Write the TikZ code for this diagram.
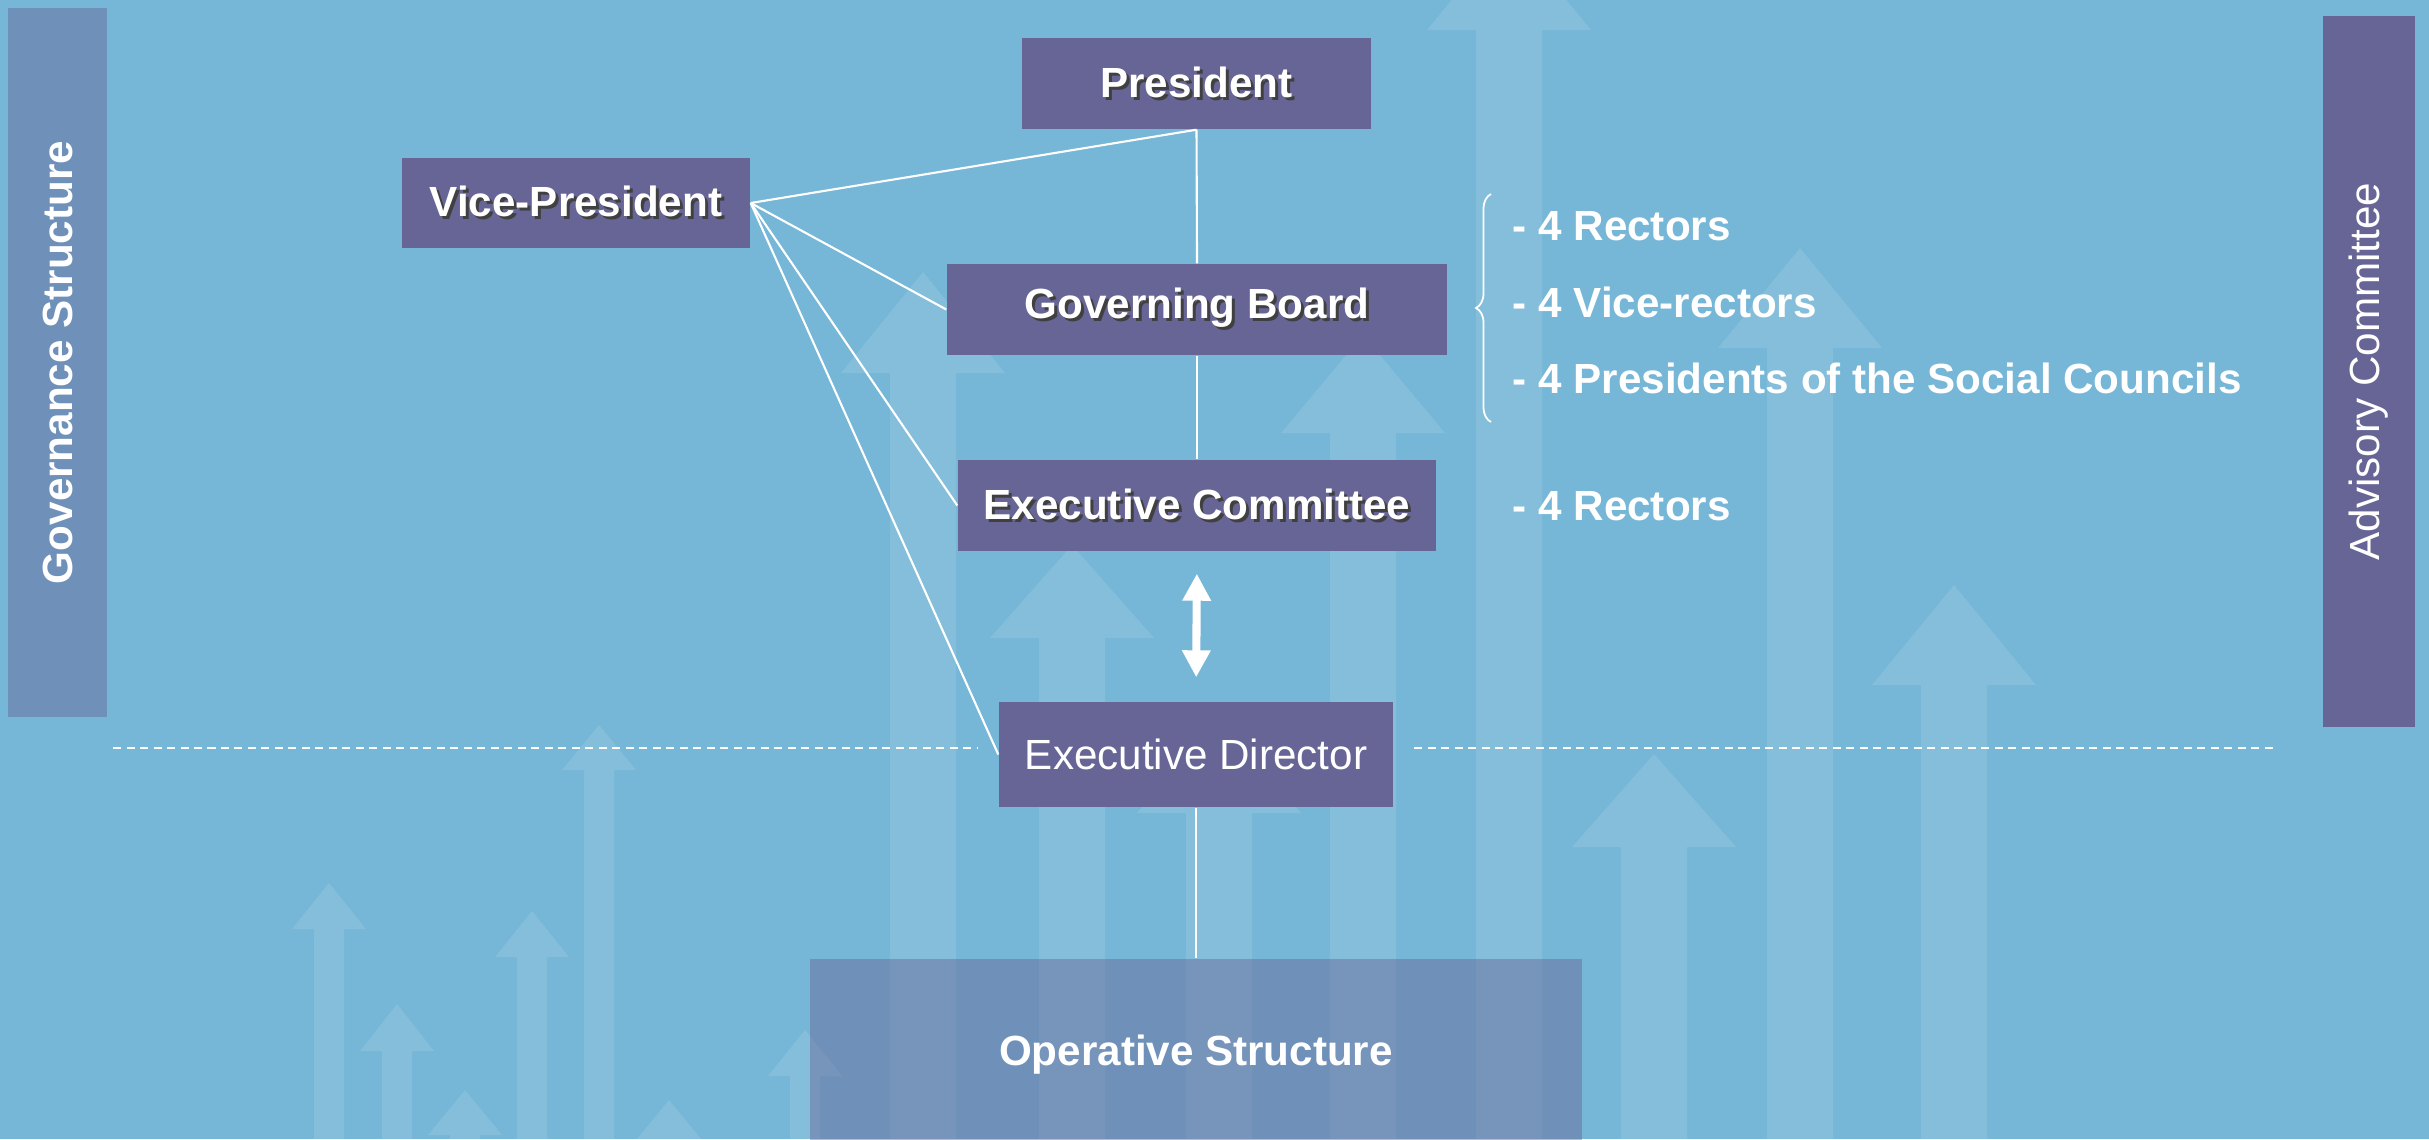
\documentclass[tikz,border=0pt]{standalone}
\usepackage{fontspec}
\setmainfont{Liberation Sans}
\usepackage{xcolor}
\definecolor{bgblue}{RGB}{118,182,215}
\definecolor{boxpurple}{RGB}{103,101,150}
\usepackage{tikz}
\usetikzlibrary{arrows.meta, decorations.pathreplacing}
\tikzstyle{box} = [
    rectangle, text centered,
    inner sep=0pt,
    text=white,
    font=\fontsize{12}{14}\selectfont,
]
\tikzstyle{unit} = [
    box,
    fill=boxpurple,
]
\tikzstyle{band} = [
    box,
    fill=boxpurple,
    fill opacity=0.45,
    text opacity=1,
]
\tikzstyle{member} = [
    anchor=base west, inner sep=0pt,
    text=white,
    font=\fontsize{12}{14}\selectfont\bfseries,
]
\tikzstyle{link} = [draw=white, line width=0.6pt]
\tikzstyle{divider} = [draw=white, line width=0.55pt, dash pattern=on 0.08cm off 0.055cm]
\tikzstyle{twoway} = [white, line width=2.3pt, <->, >={Triangle[width=0.27cm,length=0.27cm]}]
\tikzstyle{bgarrow} = [fill=white, fill opacity=0.11]
\newcommand{\shadowtxt}[1]{\makebox[0pt][l]{\hspace{0.03cm}\raisebox{-0.03cm}{\textcolor{black!75}{\bfseries #1}}}{\bfseries #1}}

\begin{document}
\begin{tikzpicture}
    \useasboundingbox (0,0) rectangle (24.29,11.39);
    % background
    \fill[bgblue] (0,0) rectangle (24.29,11.39);
    \begin{scope}
        \clip (0,0) rectangle (24.29,11.39);
        \foreach \x/\t/\b in {15.09/12.09/11.09, 9.23/8.67/7.66, 10.72/5.94/5.01, 13.63/8.04/7.06,
                              18.00/8.91/7.91, 19.54/5.54/4.54, 16.54/3.85/2.92, 12.19/4.26/3.26}
            \fill[bgarrow] (\x-0.33,0) -- (\x-0.33,\b) -- (\x-0.82,\b) -- (\x,\t)
                -- (\x+0.82,\b) -- (\x+0.33,\b) -- (\x+0.33,0) -- cycle;
        \foreach \x/\t/\b in {3.29/2.56/2.10, 3.97/1.35/0.88, 4.65/0.49/0.04, 5.32/2.28/1.82,
                              5.99/4.14/3.69, 6.69/0.39/-0.06, 8.05/1.09/0.63}
            \fill[bgarrow] (\x-0.15,0) -- (\x-0.15,\b) -- (\x-0.37,\b) -- (\x,\t)
                -- (\x+0.37,\b) -- (\x+0.15,\b) -- (\x+0.15,0) -- cycle;
    \end{scope}

    % boxes
    \node (pres) at (11.965,10.555) [unit, minimum width=3.49cm, minimum height=0.91cm] {\shadowtxt{President}};
    \node (vp) at (5.76,9.36) [unit, minimum width=3.48cm, minimum height=0.90cm] {\shadowtxt{Vice-President}};
    \node (gb) at (11.97,8.295) [unit, minimum width=5.00cm, minimum height=0.91cm] {\shadowtxt{Governing Board}};
    \node (ec) at (11.97,6.335) [unit, minimum width=4.78cm, minimum height=0.91cm] {\shadowtxt{Executive Committee}};
    \node (ed) at (11.96,3.845) [unit, minimum width=3.94cm, minimum height=1.05cm] {Executive Director};
    \node (op) at (11.96,0.84) [band, minimum width=7.72cm, minimum height=1.92cm] {\bfseries Operative Structure};

    \node (gov) at (0.575,7.765) [band, rotate=90, minimum width=7.09cm, minimum height=0.99cm] {\bfseries Governance Structure};
    \node (adv) at (23.685,7.675) [unit, rotate=90, minimum width=7.11cm, minimum height=0.92cm] {Advisory Committee};

    % members
    \node (m1) at (15.12,8.99) [member] {- 4 Rectors};
    \node (m2) at (15.12,8.22) [member] {- 4 Vice-rectors};
    \node (m3) at (15.12,7.46) [member] {- 4 Presidents of the Social Councils};
    \node (m4) at (15.12,6.19) [member] {- 4 Rectors};

    \coordinate (brbot) at (14.91,7.17);
    \coordinate (brtop) at (14.91,9.45);
    \draw [white, line width=0.5pt, decorate, decoration={brace, amplitude=0.15cm}] (brbot) -- (brtop);

    % lines
    \draw [link] (vp.east) -- (pres.south);
    \draw [link] (vp.east) -- (gb.west);
    \draw [link] (vp.east) -- (ec.west);
    \draw [link] (vp.east) -- (ed.west);
    \draw [link] (pres.south) -- (gb.north);
    \draw [link] (gb.south) -- (ec.north);
    \draw [link] (ed.south) -- (op.north);
    \draw [twoway, shorten <=0.22cm, shorten >=0.24cm] (ec.south) -- (ed.north);

    % divider
    \coordinate (dl1) at (1.13,3.91);
    \coordinate (dl2) at (9.77,3.91);
    \coordinate (dr1) at (14.14,3.91);
    \coordinate (dr2) at (22.77,3.91);
    \draw [divider] (dl1) -- (dl2);
    \draw [divider] (dr1) -- (dr2);

\end{tikzpicture}
\end{document}
